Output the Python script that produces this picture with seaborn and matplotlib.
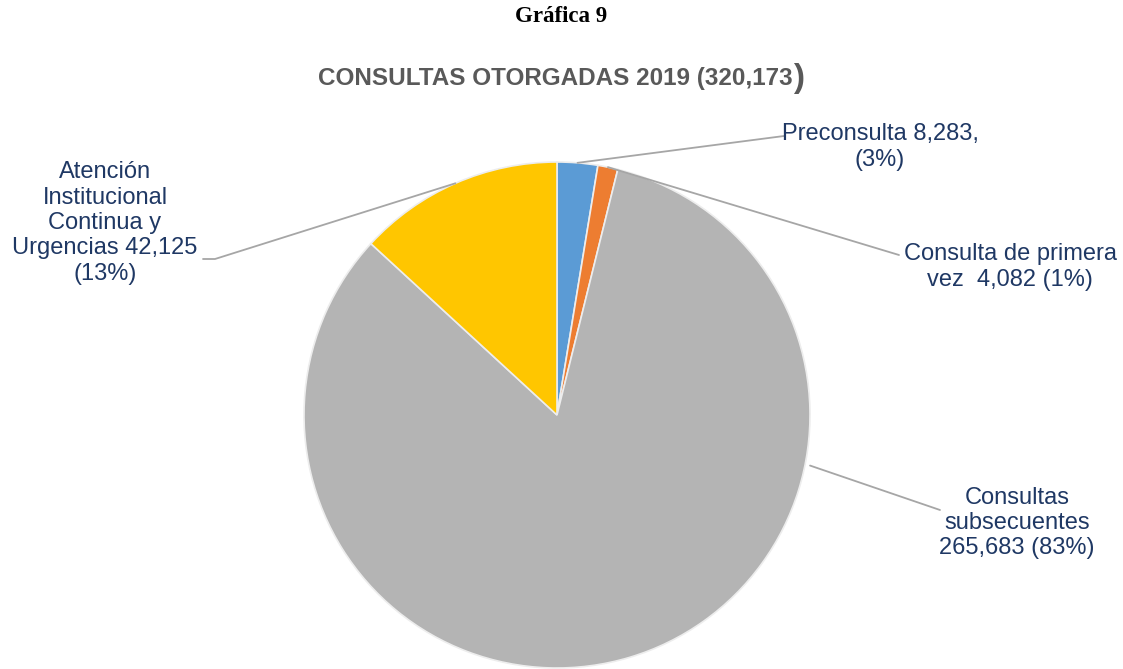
import numpy as np
import seaborn as sns
import matplotlib
matplotlib.use("Agg")
import matplotlib.pyplot as plt
from matplotlib.lines import Line2D

# =========================
# Datos
# =========================
categorias = [
    "Preconsulta",
    "Consulta de primera vez",
    "Consultas subsecuentes",
    "Atención Institucional Continua y Urgencias",
]
valores = [8283, 4082, 265683, 42125]
etiquetas = [
    "Preconsulta 8,283,\n(3%)",
    "Consulta de primera\nvez  4,082 (1%)",
    "Consultas\nsubsecuentes\n265,683 (83%)",
    "Atención\nInstitucional\nContinua y\nUrgencias 42,125\n(13%)",
]
colores = ["#5B9BD5", "#ED7D31", "#B4B4B4", "#FFC600"]

sns.set_theme(style="white")
plt.rcParams["font.family"] = ["Liberation Sans", "DejaVu Sans"]

W, H = 1123, 669
fig = plt.figure(figsize=(W / 100, H / 100), dpi=100)

# pastel: centro (557, 415) px, radio 253 px
cx, cy, r = 557, 415, 253
ax = fig.add_axes([(cx - r) / W, 1 - (cy + r) / H, 2 * r / W, 2 * r / H])
wedges, _ = ax.pie(
    valores,
    colors=colores,
    startangle=90,
    counterclock=False,
    wedgeprops=dict(edgecolor="#EDEDED", linewidth=1.2),
)
ax.set_xlim(-1, 1)
ax.set_ylim(-1, 1)
ax.set_aspect("auto")
ax.axis("off")


def px(x, y):
    return x / W, 1 - y / H


def borde(ang, rad=1.0):
    a = np.deg2rad(ang)
    p = ax.transData.transform((rad * np.cos(a), rad * np.sin(a)))
    return fig.transFigure.inverted().transform(p)


azul = "#1F3864"
gris_linea = "#A6A6A6"

# ángulo de anclaje de cada línea guía y puntos de la etiqueta
medios = [(w.theta1 + w.theta2) / 2 for w in wedges]
anclas = [medios[0], medios[1], -11.3, medios[3]]
rads = [1.0, 1.0, 1.02, 1.0]
texto_pos = [(880, 147), (1010, 267), (1017, 523), (105, 223)]
fin_linea = [[(784, 136)], [(899, 255)], [(940, 510)], [(215, 259), (203, 259)]]

for i in range(len(valores)):
    p0 = borde(anclas[i], rads[i])
    pts = [p0] + [px(*q) for q in fin_linea[i]]
    xs = [p[0] for p in pts]
    ys = [p[1] for p in pts]
    fig.add_artist(Line2D(xs, ys, transform=fig.transFigure, color=gris_linea, lw=1.3))
    tx, ty = px(*texto_pos[i])
    fig.text(tx, ty, etiquetas[i], ha="center", va="center", color=azul,
             fontsize=17, linespacing=1.2)

fig.text(0.5, 1 - 16 / H, "Gráfica 9", ha="center", va="center",
         family=["Liberation Serif", "DejaVu Serif"], fontweight="bold", fontsize=16.5, color="black")
t = fig.text(555 / W, 1 - 78 / H, "CONSULTAS OTORGADAS 2019 (320,173", ha="center", va="center",
             fontweight="bold", fontsize=17.5, color="#595959")
fig.canvas.draw()
bb = t.get_window_extent(fig.canvas.get_renderer())
fig.text(bb.x1 / W + 0.001, (bb.y0 + bb.y1) / 2 / H, ")", ha="left", va="center",
         fontweight="bold", fontsize=24, color="#595959")

plt.savefig("out.png", dpi=100)
